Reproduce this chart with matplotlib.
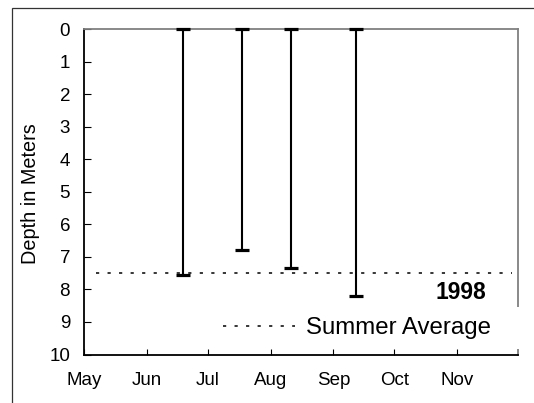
import matplotlib
matplotlib.use("Agg")
import matplotlib.pyplot as plt
import matplotlib.dates as mdates
from matplotlib.patches import Rectangle
import numpy as np
import datetime as dt

plt.rcParams['font.family'] = ['Liberation Sans', 'DejaVu Sans']
plt.rcParams['lines.scale_dashes'] = False

# ---- data ----
sample_dates = ['1998-06-19', '1998-07-18', '1998-08-11', '1998-09-12']
depths = [7.55, 6.8, 7.35, 8.2]
summer_average = 7.5
average_span = ['1998-05-07', '1998-11-28']
month_ticks = ['1998-05-01', '1998-06-01', '1998-07-01', '1998-08-01',
               '1998-09-01', '1998-10-01', '1998-11-01']
x_range = ['1998-05-01', '1998-12-01']
y_ticks = list(range(0, 11))
year_label = '1998'
legend_label = 'Summer Average'
y_label = 'Depth in Meters'

def to_num(lst):
    return mdates.date2num([dt.datetime.strptime(s, '%Y-%m-%d') for s in lst])

W, H = 534, 403
fig = plt.figure(figsize=(W / 100, H / 100), dpi=100)
ax = fig.add_axes([84 / W, 1 - 354.5 / H, (518 - 84) / W, (354.5 - 29.3) / H])

xs = to_num(sample_dates)
zeros = np.zeros(len(depths))
ax.errorbar(xs, zeros, yerr=[zeros, np.array(depths)], fmt='none',
            ecolor='black', elinewidth=1.5, capsize=4.7, capthick=2.3,
            clip_on=False, zorder=4)

avg_x = to_num(average_span)
avg_line, = ax.plot(avg_x, [summer_average, summer_average], color='black',
                    lw=1.1, linestyle=(0, (2.3, 6.0)), label=legend_label,
                    zorder=3)

ax.set_xlim(*to_num(x_range))
ax.set_ylim(10, 0)
ax.set_yticks(y_ticks)
ax.set_xticks(to_num(month_ticks))
ax.xaxis.set_major_formatter(mdates.DateFormatter('%b'))

ax.tick_params(axis='both', direction='in', labelsize=13.5, colors='black')
ax.tick_params(axis='x', length=4.3, width=0.8, pad=12.5)
ax.tick_params(axis='y', length=5, width=0.8, pad=10)
ax.tick_params(axis='x', top=False)
ax.tick_params(axis='y', right=False)

for s in ['left', 'bottom']:
    ax.spines[s].set_color('black')
    ax.spines[s].set_linewidth(1.3)
for s in ['top', 'right']:
    ax.spines[s].set_color('#808080')
    ax.spines[s].set_linewidth(1.3)

ax.set_ylabel(y_label, fontsize=14.3)
ax.yaxis.set_label_coords(39.5 / W, 1 - 193.3 / H, transform=fig.transFigure)

fig.text(486 / W, 1 - 299 / H, year_label, ha='right', va='baseline',
         fontsize=16.5, fontweight='bold')

leg = fig.legend(handles=[avg_line], loc='center left',
                 bbox_to_anchor=(213.3 / W, 1 - 328 / H),
                 fontsize=17.3, frameon=True, fancybox=False,
                 handlelength=3.0, handletextpad=0.45, borderpad=0.4,
                 borderaxespad=0)
leg.get_frame().set_facecolor('white')
leg.get_frame().set_edgecolor('none')
leg.set_zorder(6)

# figure border
fig.patches.append(Rectangle((12 / W, -0.1), 1.2, 1.1 - 8 / H,
                             transform=fig.transFigure, fill=False,
                             edgecolor='#333333', linewidth=0.9))

# extend legend's white background over the right spine
fig.canvas.draw()
bb = leg.get_window_extent().transformed(fig.transFigure.inverted())
axbb = ax.get_position()
fig.patches.append(Rectangle((bb.x0, bb.y0), axbb.x1 + 3 / W - bb.x0, bb.height,
                             transform=fig.transFigure, facecolor='white',
                             edgecolor='none', zorder=5))

fig.savefig('out.png', dpi=100)
